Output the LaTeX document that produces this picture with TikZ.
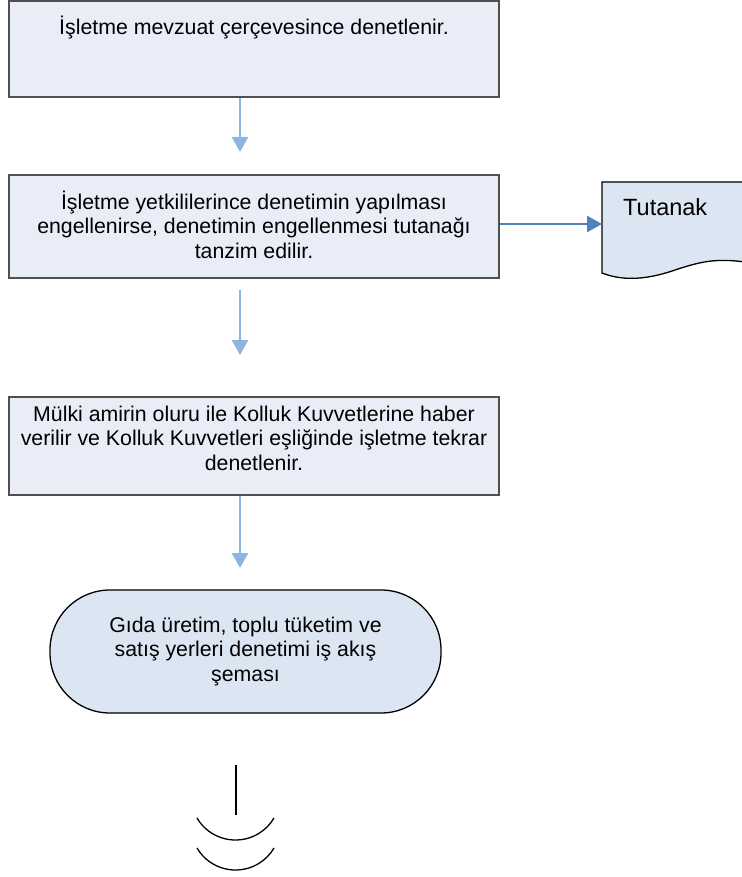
\documentclass[tikz,border=0pt]{standalone}
\usepackage{fontspec}
\setmainfont{Liberation Sans}
\usetikzlibrary{arrows.meta}
\definecolor{boxfill}{RGB}{233,237,247}
\definecolor{termfill}{RGB}{220,230,242}
\definecolor{boxline}{RGB}{80,80,80}
\definecolor{lightarr}{RGB}{142,180,227}
\definecolor{darkarr}{RGB}{79,129,189}
\tikzset{
  stepbox/.style={draw=boxline, line width=1.3pt, fill=boxfill, rectangle, inner sep=0pt},
  lbl/.style={font=\fontsize{21.3}{24.5}\selectfont, align=center},
  termbox/.style={draw=black, line width=1.3pt, fill=termfill, rectangle, rounded corners=60pt,
    minimum width=391pt, minimum height=123pt, font=\fontsize{21.3}{24.5}\selectfont, align=center},
  larr/.style={draw=lightarr, line width=2.7pt, -{Triangle[length=15pt,width=16pt]}},
  darr/.style={draw=darkarr, line width=2.5pt, -{Triangle[length=15pt,width=16pt]}},
  endline/.style={draw=black, line width=1.3pt}
}
\begin{document}
\begin{tikzpicture}[x=1pt,y=-1pt]
\useasboundingbox (0,0) rectangle (741,877);
% boxes
\node[stepbox, minimum width=490pt, minimum height=96pt,
  label={[lbl, anchor=north, yshift=-12pt]north:{İşletme mevzuat çerçevesince denetlenir.}}]
  (b1) at (254,49) {};
\node[stepbox, minimum width=490pt, minimum height=103pt,
  label={[lbl, yshift=2pt]center:{İşletme yetkililerince denetimin yapılması\\engellenirse, denetimin engellenmesi tutanağı\\tanzim edilir.}}]
  (b2) at (254,226.5) {};
\node[stepbox, minimum width=490pt, minimum height=98pt,
  label={[lbl, yshift=8pt]center:{Mülki amirin oluru ile Kolluk Kuvvetlerine haber\\verilir ve Kolluk Kuvvetleri eşliğinde işletme tekrar\\denetlenir.}}]
  (b3) at (254,446) {};
% terminator
\node[termbox] (t) at (245.5,651.5) {\raisebox{-3pt}{\parbox{300pt}{\centering Gıda üretim, toplu tüketim ve\\satış yerleri denetimi iş akış\\şeması}}};
% document shape (Tutanak)
\fill[termfill] (602,182) -- (745,182) -- (745,262)
  .. controls (715,258) and (700,262) .. (678,269)
  .. controls (650,279) and (625,282) .. (602,273) -- cycle;
\draw[black, line width=1.3pt] (745,182) -- (602,182) -- (602,273)
  .. controls (625,282) and (650,279) .. (678,269)
  .. controls (700,262) and (715,258) .. (745,262);
\node[font=\fontsize{23.5}{26}\selectfont, anchor=west, inner sep=0pt] (tut) at (623,207) {Tutanak};
\coordinate (tutin) at (602,224);
% arrows
\coordinate (a1e) at (240,152);
\draw[larr] (b1.south -| a1e) -- (a1e);
\coordinate (a2s) at (240,290);
\coordinate (a2e) at (240,355);
\draw[larr] (a2s) -- (a2e);
\coordinate (a3e) at (240,568);
\draw[larr] (b3.south -| a3e) -- (a3e);
\draw[darr] (b2.east |- tutin) -- (tutin);
% bottom symbol
\coordinate (ls) at (236,765);
\coordinate (le) at (236,815);
\draw[endline] (ls) -- (le);
\coordinate (c1) at (197,818);
\coordinate (c2) at (197,848);
\draw[endline] (c1) arc[start angle=149.5, end angle=30.5, radius=44.7];
\draw[endline] (c2) arc[start angle=149.5, end angle=30.5, radius=44.7];
\end{tikzpicture}
\end{document}
